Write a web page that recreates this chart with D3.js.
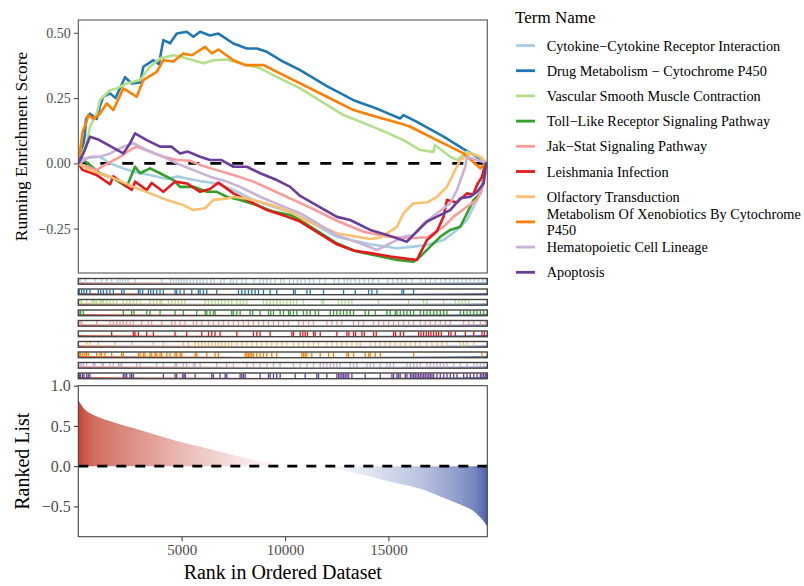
<!DOCTYPE html>
<html><head><meta charset="utf-8">
<script src="https://cdn.jsdelivr.net/npm/d3@7"></script>
<style>body{margin:0;background:#fff} svg{display:block;font-family:"Liberation Serif","Times New Roman",serif}</style>
</head><body><svg id="c" width="804" height="586"></svg>
<script>
// ---------------- DATA ----------------
const terms = ["Cytokine\u2212Cytokine Receptor Interaction","Drug Metabolism \u2212 Cytochrome P450","Vascular Smooth Muscle Contraction","Toll\u2212Like Receptor Signaling Pathway","Jak\u2212Stat Signaling Pathway","Leishmania Infection","Olfactory Transduction","Metabolism Of Xenobiotics By Cytochrome P450","Hematopoietic Cell Lineage","Apoptosis"];
const termColors = ["#A6CEE3","#1F78B4","#B2DF8A","#33A02C","#FB9A99","#E31A1C","#FDBF6F","#FF7F00","#CAB2D6","#6A3D9A"];
const nGenes = 19785;

// running enrichment score vertices [rank, ES]
const esCytokine = [[0,0],[300,0.02],[1050,0.025],[1535,0.0],[2178,-0.02],[2827,-0.035],[3471,-0.045],[4280,-0.06],[4764,-0.05],[5248,-0.058],[5891,-0.068],[6700,-0.077],[7504,-0.102],[8472,-0.14],[9440,-0.166],[10408,-0.191],[10892,-0.21],[12509,-0.282],[14121,-0.31],[15414,-0.325],[16217,-0.319],[16866,-0.313],[17670,-0.294],[18318,-0.255],[18802,-0.217],[19286,-0.14],[19608,-0.06],[19785,0]];
const esDrug = [[0,0],[165,0.025],[324,0.115],[373,0.17],[566,0.19],[891,0.17],[1050,0.22],[1210,0.255],[1535,0.268],[1800,0.25],[2261,0.33],[2585,0.306],[2987,0.31],[3147,0.37],[3631,0.395],[3900,0.38],[4115,0.472],[4439,0.46],[4764,0.497],[5248,0.504],[5567,0.485],[5891,0.504],[6376,0.49],[6777,0.497],[7504,0.459],[8152,0.44],[8636,0.44],[9120,0.427],[9924,0.389],[10733,0.357],[12025,0.296],[13313,0.242],[14121,0.219],[14605,0.204],[15573,0.172],[15733,0.185],[16382,0.159],[17670,0.102],[18720,0.051],[19286,0.025],[19785,0]];
const esVascular = [[0,0],[436,0.089],[566,0.14],[891,0.191],[1050,0.242],[1535,0.28],[1859,0.287],[2343,0.306],[2987,0.319],[3471,0.37],[3955,0.402],[4599,0.414],[5100,0.405],[6051,0.383],[6535,0.395],[7184,0.398],[7828,0.383],[8796,0.364],[9605,0.331],[10733,0.287],[12829,0.185],[14446,0.134],[15733,0.089],[16542,0.051],[17185,0.044],[17250,0.07],[17993,0.025],[18318,0.013],[18802,0.044],[19300,0.03],[19785,0]];
const esToll = [[0,0],[300,0.01],[1050,-0.038],[1694,-0.057],[2343,-0.09],[2745,-0.013],[2987,-0.038],[3471,-0.019],[3955,-0.038],[4599,-0.064],[4923,-0.09],[5600,-0.09],[6216,-0.109],[6700,-0.109],[7184,-0.128],[7828,-0.14],[8636,-0.16],[9440,-0.185],[10249,-0.198],[10733,-0.217],[12509,-0.306],[13478,-0.338],[14281,-0.351],[15414,-0.37],[16217,-0.377],[16542,-0.357],[17025,-0.319],[17510,-0.281],[17993,-0.255],[18478,-0.243],[18802,-0.191],[19122,-0.14],[19446,-0.115],[19608,-0.064],[19785,0]];
const esJakStat = [[0,0],[891,-0.026],[1200,-0.01],[2019,0.025],[2503,0.051],[2827,0.064],[3471,0.044],[4115,0.025],[4764,0.013],[5400,0.01],[5891,-0.006],[6700,-0.026],[7504,-0.045],[8472,-0.07],[9440,-0.105],[10408,-0.14],[11500,-0.18],[12509,-0.22],[13797,-0.262],[14929,-0.28],[16057,-0.287],[16866,-0.283],[17670,-0.243],[18153,-0.204],[18802,-0.166],[19286,-0.14],[19528,-0.1],[19785,0]];
const esLeishmania = [[0,0],[200,-0.025],[891,-0.045],[1535,-0.08],[1694,-0.05],[2585,-0.102],[2745,-0.07],[3311,-0.102],[3550,-0.075],[4115,-0.109],[4681,-0.07],[5248,-0.077],[5891,-0.109],[6376,-0.098],[6777,-0.074],[7504,-0.115],[8152,-0.14],[9120,-0.179],[10089,-0.204],[10733,-0.223],[12509,-0.31],[13313,-0.334],[14121,-0.344],[15089,-0.357],[15733,-0.364],[16382,-0.37],[16542,-0.344],[16866,-0.294],[17350,-0.26],[17670,-0.204],[17834,-0.14],[18300,-0.15],[18802,-0.115],[19100,-0.12],[19286,-0.083],[19528,-0.051],[19690,0],[19785,0]];
const esOlfactory = [[0,0],[566,-0.026],[1535,-0.051],[2663,-0.09],[3471,-0.115],[4280,-0.14],[5083,-0.16],[5567,-0.179],[6134,-0.172],[6535,-0.14],[7184,-0.135],[7504,-0.128],[8100,-0.135],[8796,-0.147],[9605,-0.166],[10408,-0.191],[10892,-0.215],[12509,-0.268],[14121,-0.29],[14605,-0.285],[14929,-0.268],[15414,-0.243],[15733,-0.191],[16217,-0.153],[16866,-0.15],[17350,-0.128],[17834,-0.09],[18153,-0.038],[18478,0.013],[18962,0.038],[19446,0.025],[19785,0]];
const esXenobiotics = [[0,0],[213,0.121],[373,0.153],[484,0.185],[730,0.17],[1050,0.19],[1375,0.23],[1694,0.204],[2178,0.287],[2827,0.255],[3147,0.319],[3795,0.35],[4115,0.395],[4600,0.39],[5083,0.421],[5490,0.414],[6134,0.446],[6458,0.421],[6777,0.436],[7504,0.395],[8070,0.376],[8956,0.376],[9280,0.364],[9924,0.338],[10733,0.306],[12025,0.255],[13313,0.204],[14121,0.185],[15573,0.153],[16057,0.14],[17350,0.089],[18638,0.038],[19446,-0.019],[19690,0],[19785,0]];
const esHematopoietic = [[0,0],[566,0.025],[1050,0.025],[1535,0.038],[2178,0.064],[2663,0.077],[3311,0.051],[4115,0.025],[4764,0.0],[5567,-0.026],[6376,-0.051],[7184,-0.07],[7828,-0.09],[8796,-0.128],[9764,-0.16],[10733,-0.191],[12509,-0.275],[13637,-0.306],[14446,-0.332],[14929,-0.313],[15733,-0.281],[16200,-0.275],[16701,-0.23],[17350,-0.191],[17993,-0.153],[18318,-0.102],[18720,-0.013],[18802,0.025],[19200,0.015],[19785,0]];
const esApoptosis = [[0,0],[242,0.038],[566,0.102],[1000,0.09],[2178,0.038],[2503,0.077],[2745,0.115],[3311,0.089],[3955,0.064],[4500,0.064],[4923,0.038],[5300,0.045],[5891,0.025],[6376,0.013],[6900,0.013],[7504,-0.013],[8152,-0.013],[8796,-0.038],[9605,-0.064],[10249,-0.09],[10733,-0.125],[12509,-0.205],[13153,-0.217],[14121,-0.255],[14929,-0.274],[15897,-0.3],[16217,-0.274],[16866,-0.223],[17350,-0.204],[17993,-0.179],[18478,-0.134],[18962,-0.128],[19286,-0.109],[19608,-0.077],[19720,0],[19785,0]];

// gene-set hit ranks (rug)
const hitsCytokine = [82,324,809,1131,1374,1616,1890,2019,2148,2277,2407,2745,4037,4471,4600,4729,4858,4987,5116,5245,5407,5568,5730,5891,6052,6214,6408,6569,6892,7053,7376,7505,7667,7909,8118,8505,8796,8958,9119,9313,9522,9797,9958,10216,10410,10603,10765,10975,11185,11378,11669,11944,12379,12589,12864,13025,13186,13396,13606,13832,14042,14252,14527,14962,15220,15446,15656,15866,16140,16576,16786,17028,17270,17544,17754,17964,18158,18351,18561,18771,18964,19158,19368,19578,19739];
const hitsDrug = [48,161,274,404,565,968,1081,1211,1372,1533,1695,2098,2211,2905,2986,3115,3389,3502,3632,3793,3954,4116,4681,4761,4923,5116,5488,5810,5891,6052,6214,6698,7747,7909,8070,8231,8393,8554,8716,8958,9281,9603,10410,10491,11056,11217,11863,12831,13396,14042,14203,14446,15656,15737,16221];
const hitsVascular = [81,161,404,646,726,807,888,1049,1130,1211,1372,1533,1695,1856,2179,2340,2502,2663,2825,2986,3470,3632,3793,3954,4035,4358,4519,4681,4842,5003,5165,6133,6295,6456,6617,6779,6940,7102,7263,7424,7667,7828,7989,8151,8958,9119,9281,9442,9603,9765,9926,10088,10249,10410,10572,10895,11782,11863,12589,12751,12912,13073,13235,14526,15979,16705,16866,17673,18238,18400,18561,18722,18884];
const hitsToll = [81,113,242,2179,2582,2695,3309,3470,3954,4681,5084,5730,6133,6214,6375,6537,6617,7424,7505,7667,7828,8312,8441,8796,9200,9313,9442,9765,9926,10168,10249,10410,10572,10895,11056,11217,11459,11621,12186,12347,12509,12670,12831,12993,13154,13316,13880,14042,14365,14930,15091,15333,15414,15575,15737,15898,16059,16221,16544,16705,16866,17028,17189,17351,17512,17673,17835,18480,18641,18803,18965,19126,19287,19448,19610];
const hitsJakStat = [81,161,888,1533,1695,1856,2018,2179,2340,2502,2663,3067,3389,3551,4035,4519,4681,4923,5165,5568,5730,5972,6295,6537,6779,7021,7263,7505,7747,7989,8231,8474,8716,8958,9200,9442,9684,9926,10168,10652,10895,11137,11379,12024,12266,12509,12751,13316,13558,13800,14284,14526,14768,15010,15253,15495,15737,15979,16221,16544,16786,17028,17270,17512,17754,17996,18641,18884,19126,19448,19691];
const hitsLeishmania = [1614,2663,2744,2905,3309,3632,4681,5246,5972,6295,6456,6617,6860,7667,8474,8635,8796,9281,10330,10410,10733,10862,10975,11088,11379,11459,11702,12509,12993,13090,13316,13412,13719,13832,14284,14413,15253,15349,15575,15737,16463,16576,16705,16834,16947,17060,17189,17318,17431,17560,17915,18028,18238,18722,19126,19529,19642];
const hitsOlfactory = [404,565,968,1775,2582,3632,4116,5084,5326,5649,5810,5972,6133,6295,6456,6617,6779,6940,7102,7263,7424,7667,7909,8151,8393,8635,8877,9119,9361,9603,9845,10088,10410,10652,10895,11137,11379,11621,12024,12266,12509,12751,12993,13235,13477,13638,14123,14365,14607,14849,15091,15333,15575,15817,16059,16301,16544,16866,17108,17351,17593,17835,18480,18641,18803,19126];
const hitsXenobiotics = [48,113,210,323,404,484,888,1049,1130,1291,1614,2098,2179,2905,2986,3147,3228,3470,3551,3712,3793,3954,4035,4277,4439,4681,4761,4923,5003,5649,5730,6214,6617,6779,8070,8151,8231,8312,8393,8474,8635,8796,8958,9119,9361,9603,10814,10895,10975,11056,11298,11702,12105,12347,12993,13073,13316,13880,14042,14123,14365,14607,16221,19529];
const hitsHematopoietic = [81,161,242,404,726,807,1130,1211,1533,1695,1937,2018,2098,2825,2986,3793,4116,4681,4761,5084,5246,5568,5649,5891,6698,7182,7505,8151,8474,8796,9119,9442,9765,10410,10733,11056,11379,11702,11863,12024,12186,12347,12509,12670,13154,13316,13477,13961,14123,14284,14607,14930,15091,15253,15898,16059,16221,16382,16544,16866,17028,17189,17351,17512,17673,17835,18158,18480,18803,19126,19287,19448,19610];
const hitsApoptosis = [48,113,210,274,404,484,565,2179,2260,2340,2502,2582,2663,4116,4681,4761,5052,5116,5181,5649,6456,6537,6860,7102,7182,7828,7909,7989,8070,8796,9200,9281,9442,9603,9765,10491,10975,11540,11621,12024,12509,12589,12670,12751,12831,12912,12993,13073,13235,13880,14607,15172,15253,15414,15495,15575,15817,15898,16059,16140,16221,16301,16382,16463,16544,16624,16705,16786,16866,16947,17028,17108,17189,17351,17512,17673,17835,17996,18158,18319,18641,18803,18965,19126,19287,19448,19529,19610,19691,19771];

// ranked list metric
const metricRank  = [0,276,760,1404,3021,4633,6245,7862,9474,10600,11894,13507,15123,16735,17544,18348,19156,19558,19785];
const metricValue = [0.82,0.716,0.633,0.571,0.447,0.323,0.22,0.115,0.033,0.0,-0.016,-0.09,-0.195,-0.298,-0.38,-0.463,-0.567,-0.67,-0.75];

const esTicks = [0.5,0.25,0,-0.25];
const rankTicks = [5000,10000,15000];
const metricTicks = [1,0.5,0,-0.5];

// ---------------- DRAW ----------------
const esSeries = [esCytokine,esDrug,esVascular,esToll,esJakStat,esLeishmania,esOlfactory,esXenobiotics,esHematopoietic,esApoptosis];
const hitSeries = [hitsCytokine,hitsDrug,hitsVascular,hitsToll,hitsJakStat,hitsLeishmania,hitsOlfactory,hitsXenobiotics,hitsHematopoietic,hitsApoptosis];

const svg = d3.select("#c");
const L = 78.3, R = 487.3;
const topT = 20, topB = 273;
const botT = 385.7, botB = 536.7;
const rugTop0 = 278.5, rugPitch = 10.5, rugH = 5.7;

const x = d3.scaleLinear().domain([0,nGenes]).range([L,R]);
const yES = d3.scaleLinear().domain([-0.42,0.549]).range([topB,topT]);
const yM = d3.scaleLinear().domain([-0.877,1.0]).range([botB,botT]);
const metricColor = d3.scaleLinear().domain([d3.min(metricValue),0,d3.max(metricValue)]).range(["#4A60AB","#FFFFFF","#C4402F"]);

// gradient defs
const defs = svg.append("defs");
const grad = defs.append("linearGradient").attr("id","rankGrad").attr("gradientUnits","userSpaceOnUse")
  .attr("x1",x(0)).attr("x2",x(nGenes)).attr("y1",0).attr("y2",0);
metricRank.forEach((r,i)=>{
  grad.append("stop").attr("offset",r/nGenes).attr("stop-color",metricColor(metricValue[i]));
});
defs.append("clipPath").attr("id","clipTop").append("rect").attr("x",L).attr("y",topT).attr("width",R-L).attr("height",topB-topT);

const tickCol = "#4d4d4d";
const frameCol = "#555";

// ---- top panel ----
const gTop = svg.append("g");
gTop.append("line").attr("x1",L).attr("x2",R).attr("y1",yES(0)).attr("y2",yES(0))
  .attr("stroke","#000").attr("stroke-width",2.6).attr("stroke-dasharray","11,11");
const line = d3.line().x(d=>x(d[0])).y(d=>yES(d[1]));
const gLines = gTop.append("g").attr("clip-path","url(#clipTop)");
esSeries.forEach((s,i)=>{
  gLines.append("path").attr("d",line(s)).attr("fill","none").attr("stroke",termColors[i])
    .attr("stroke-width",2.6).attr("stroke-linejoin","round");
});
gTop.append("rect").attr("x",L).attr("y",topT).attr("width",R-L).attr("height",topB-topT)
  .attr("fill","none").attr("stroke",frameCol).attr("stroke-width",1.1);
const axTop = svg.append("g").attr("transform",`translate(${L},0)`)
  .call(d3.axisLeft(yES).tickValues(esTicks).tickFormat(d3.format(".2f")).tickSize(4.5).tickPadding(3));
axTop.select(".domain").remove();
axTop.selectAll("line").attr("stroke",frameCol).attr("stroke-width",1.1);
axTop.selectAll("text").attr("fill",tickCol).style("font-size","14px").style("font-family","Liberation Serif");

svg.append("text").attr("transform",`translate(21,${(topT+topB)/2}) rotate(-90)`)
  .attr("text-anchor","middle").attr("dominant-baseline","central")
  .style("font-size","17.4px").attr("fill","#000").text("Running Enrichment Score");

// ---- rug rows ----
hitSeries.forEach((hits,i)=>{
  const y0 = rugTop0 + i*rugPitch;
  const g = svg.append("g");
  g.append("rect").attr("x",L).attr("y",y0).attr("width",R-L).attr("height",rugH).attr("fill","#fff");
  g.append("line").attr("x1",L).attr("x2",R).attr("y1",y0+rugH-1.1).attr("y2",y0+rugH-1.1)
    .attr("stroke","url(#rankGrad)").attr("stroke-width",1.4);
  g.selectAll("line.hit").data(hits).join("line").attr("class","hit")
    .attr("x1",d=>x(d)).attr("x2",d=>x(d)).attr("y1",y0+0.6).attr("y2",y0+rugH-0.6)
    .attr("stroke",termColors[i]).attr("stroke-width",1.3);
  g.append("rect").attr("x",L).attr("y",y0).attr("width",R-L).attr("height",rugH)
    .attr("fill","none").attr("stroke","#444").attr("stroke-width",1.4);
});

// ---- bottom panel ----
const area = d3.area().x((d,i)=>x(metricRank[i])).y0(yM(0)).y1((d)=>yM(d)).curve(d3.curveMonotoneX);
svg.append("path").attr("d",area(metricValue)).attr("fill","url(#rankGrad)");
svg.append("line").attr("x1",L).attr("x2",R).attr("y1",yM(0)).attr("y2",yM(0))
  .attr("stroke","#000").attr("stroke-width",2.6).attr("stroke-dasharray","10,9");
svg.append("rect").attr("x",L).attr("y",botT).attr("width",R-L).attr("height",botB-botT)
  .attr("fill","none").attr("stroke","#444").attr("stroke-width",1.1);
const axBL = svg.append("g").attr("transform",`translate(${L},0)`)
  .call(d3.axisLeft(yM).tickValues(metricTicks).tickFormat(d3.format(".1f")).tickSize(4.5).tickPadding(3));
axBL.select(".domain").remove();
axBL.selectAll("line").attr("stroke","#444").attr("stroke-width",1.1);
axBL.selectAll("text").attr("fill",tickCol).style("font-size","16px").style("font-family","Liberation Serif");
const axBB = svg.append("g").attr("transform",`translate(0,${botB})`)
  .call(d3.axisBottom(x).tickValues(rankTicks).tickFormat(d3.format("d")).tickSize(4.5).tickPadding(3));
axBB.select(".domain").remove();
axBB.selectAll("line").attr("stroke","#444").attr("stroke-width",1.1);
axBB.selectAll("text").attr("fill",tickCol).style("font-size","15px").style("font-family","Liberation Serif");

svg.append("text").attr("transform",`translate(21.5,${(botT+botB)/2}) rotate(-90)`)
  .attr("text-anchor","middle").attr("dominant-baseline","central")
  .style("font-size","20px").attr("fill","#000").text("Ranked List");
svg.append("text").attr("x",(L+R)/2).attr("y",578.5).attr("text-anchor","middle")
  .style("font-size","20px").attr("fill","#000").text("Rank in Ordered Dataset");

// ---- legend ----
const lg = svg.append("g");
lg.append("text").attr("x",515).attr("y",22.5).style("font-size","17px").attr("fill","#000").text("Term Name");
terms.forEach((t,i)=>{
  const cy = 45.5 + i*25.2;
  lg.append("line").attr("x1",516).attr("x2",535).attr("y1",cy).attr("y2",cy)
    .attr("stroke",termColors[i]).attr("stroke-width",2.8);
  const txt = lg.append("text").attr("x",546.7).attr("y",cy).style("font-size","14.3px").attr("fill","#000");
  const parts = t === "Metabolism Of Xenobiotics By Cytochrome P450" ? ["Metabolism Of Xenobiotics By Cytochrome","P450"] : [t];
  if(parts.length===1){
    txt.attr("dominant-baseline","central").text(t);
  } else {
    txt.append("tspan").attr("x",546.7).attr("y",cy-8.3).attr("dominant-baseline","central").text(parts[0]);
    txt.append("tspan").attr("x",546.7).attr("y",cy+8.3).attr("dominant-baseline","central").text(parts[1]);
  }
});
</script></body></html>
